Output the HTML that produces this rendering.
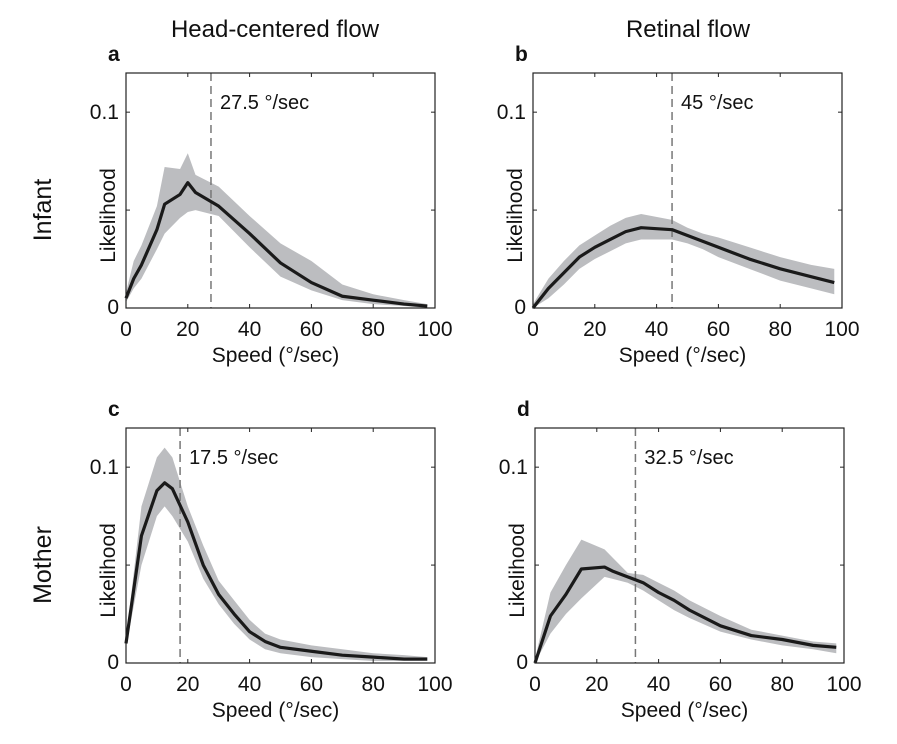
<!DOCTYPE html>
<html><head><meta charset="utf-8"><style>
body{margin:0;background:#fff}
svg{display:block;font-family:"Liberation Sans",sans-serif}
</style></head><body>
<svg id="fig" width="897" height="744"></svg>
<script>
const xTicks=[0,20,40,60,80,100];
const yTicks=[0,0.05,0.1];
const yTickLabels=["0","","0.1"];
// panel a
const aX=[0,2.5,5,10,12.5,17.5,20,22.5,30,40,50,60,70,80,90,97.5];
const aMean=[0.005,0.015,0.022,0.04,0.053,0.058,0.064,0.059,0.052,0.038,0.023,0.013,0.006,0.004,0.002,0.001];
const aHi=[0.008,0.024,0.032,0.052,0.072,0.071,0.079,0.068,0.062,0.047,0.033,0.024,0.012,0.007,0.004,0.002];
const aLo=[0.003,0.01,0.015,0.03,0.038,0.046,0.049,0.05,0.047,0.031,0.016,0.009,0.004,0.002,0.001,0.0];
// panel b
const bX=[0,5,10,15,20,25,30,35,45,50,55,60,70,80,90,97.5];
const bMean=[0,0.01,0.018,0.026,0.031,0.035,0.039,0.041,0.040,0.037,0.034,0.031,0.025,0.02,0.016,0.013];
const bHi=[0.002,0.015,0.024,0.032,0.037,0.042,0.046,0.048,0.045,0.041,0.038,0.036,0.031,0.026,0.022,0.02];
const bLo=[0,0.005,0.012,0.02,0.025,0.029,0.033,0.035,0.035,0.033,0.03,0.026,0.02,0.014,0.01,0.007];
// panel c
const cX=[0,5,10,12.5,15,20,25,30,35,40,45,50,60,70,80,90,97.5];
const cMean=[0.01,0.065,0.088,0.092,0.089,0.072,0.05,0.035,0.025,0.016,0.011,0.008,0.006,0.004,0.003,0.002,0.002];
const cHi=[0.012,0.08,0.105,0.11,0.105,0.08,0.06,0.042,0.032,0.022,0.015,0.012,0.009,0.007,0.005,0.004,0.003];
const cLo=[0.008,0.05,0.075,0.08,0.075,0.062,0.043,0.03,0.02,0.012,0.007,0.005,0.003,0.002,0.001,0.001,0.001];
// panel d
const dX=[0,5,10,15,22.5,25,30,35,40,45,50,60,70,80,90,97.5];
const dMean=[0,0.024,0.035,0.048,0.049,0.047,0.044,0.041,0.036,0.032,0.027,0.019,0.014,0.012,0.009,0.008];
const dHi=[0.002,0.036,0.05,0.063,0.058,0.054,0.046,0.045,0.041,0.037,0.032,0.024,0.017,0.014,0.011,0.01];
const dLo=[0,0.015,0.025,0.033,0.044,0.043,0.041,0.037,0.032,0.027,0.023,0.016,0.012,0.009,0.007,0.005];
const markers=[27.5,45,17.5,32.5];
const markerLabels=["27.5 °/sec","45 °/sec","17.5 °/sec","32.5 °/sec"];
const letters=["a","b","c","d"];

const NS="http://www.w3.org/2000/svg";
const svg=document.getElementById('fig');
function mk(tag,attrs,parent,text){const e=document.createElementNS(NS,tag);for(const k in attrs)e.setAttribute(k,attrs[k]);if(text!==undefined)e.textContent=text;(parent||svg).appendChild(e);return e;}

const panels=[
 {L:126,T:73,X:aX,m:aMean,hi:aHi,lo:aLo},
 {L:533,T:73,X:bX,m:bMean,hi:bHi,lo:bLo},
 {L:126,T:428,X:cX,m:cMean,hi:cHi,lo:cLo},
 {L:535,T:428,X:dX,m:dMean,hi:dHi,lo:dLo}];
const W=309,H=235,YMAX=0.12;
panels.forEach((p,i)=>{
 const sx=v=>p.L+v/100*W, sy=v=>p.T+H-v/YMAX*H;
 const g=mk('g',{});
 
 
 let d='M'+p.X.map((x,j)=>sx(x)+','+sy(p.hi[j])).join('L');
 for(let j=p.X.length-1;j>=0;j--)d+='L'+sx(p.X[j])+','+sy(p.lo[j]);
 const band=mk('path',{d:d+'Z',fill:'#bcbdc0'},g);
 
 
 const vl=mk('line',{x1:sx(markers[i]),x2:sx(markers[i]),y1:p.T,y2:p.T+H,stroke:'#777','stroke-width':1.5,'stroke-dasharray':'8,5'},g);
 
 
 const ml=mk('text',{x:sx(markers[i])+9,y:p.T+36,'font-size':20,fill:'#111'},g,markerLabels[i]);
 
 
 const ln=mk('polyline',{points:p.X.map((x,j)=>sx(x)+','+sy(p.m[j])).join(' '),fill:'none',stroke:'#1a1a1a','stroke-width':3.2,'stroke-linejoin':'round'},g);
 
 
 const box=mk('rect',{x:p.L,y:p.T,width:W,height:H,fill:'none',stroke:'#222','stroke-width':1.2},g);
 
 
 xTicks.forEach(t=>{
  mk('line',{x1:sx(t),x2:sx(t),y1:p.T+H,y2:p.T+H-4,stroke:'#222'},g);
  mk('line',{x1:sx(t),x2:sx(t),y1:p.T,y2:p.T+4,stroke:'#222'},g);
  const tl=mk('text',{x:sx(t),y:p.T+H+28,'font-size':21,'text-anchor':'middle',fill:'#111'},g,String(t));
  
  
 });
 yTicks.forEach((t,k)=>{
  mk('line',{x1:p.L,x2:p.L+4,y1:sy(t),y2:sy(t),stroke:'#222'},g);
  mk('line',{x1:p.L+W,x2:p.L+W-4,y1:sy(t),y2:sy(t),stroke:'#222'},g);
  if(yTickLabels[k]){const yl=mk('text',{x:p.L-7,y:sy(t)+(t===0?6:7),'font-size':21,'text-anchor':'end',fill:'#111'},g,yTickLabels[k]);
  
  }
 });
 const xt=mk('text',{x:p.L+W/2-5,y:p.T+H+54,'font-size':21,'text-anchor':'middle',fill:'#111'},g,'Speed (°/sec)');
 
 
 const yt=mk('text',{x:0,y:0,'font-size':21,'text-anchor':'middle',fill:'#111',transform:`translate(${p.L-11},${p.T+H/2+25}) rotate(-90)`},g,'Likelihood');
 
 
 const lt=mk('text',{x:p.L-18,y:p.T-12,'font-size':21,'font-weight':'bold',fill:'#111'},g,letters[i]);
 
 
});
const t1=mk('text',{x:275,y:37,'font-size':24,'text-anchor':'middle',fill:'#111'},svg,'Head-centered flow');


const t2=mk('text',{x:688,y:37,'font-size':24,'text-anchor':'middle',fill:'#111'},svg,'Retinal flow');


const r1=mk('text',{x:0,y:0,'font-size':25,'text-anchor':'middle',fill:'#111',transform:'translate(51,210) rotate(-90)'},svg,'Infant');


const r2=mk('text',{x:0,y:0,'font-size':25,'text-anchor':'middle',fill:'#111',transform:'translate(51,565) rotate(-90)'},svg,'Mother');


</script>
</body></html>
